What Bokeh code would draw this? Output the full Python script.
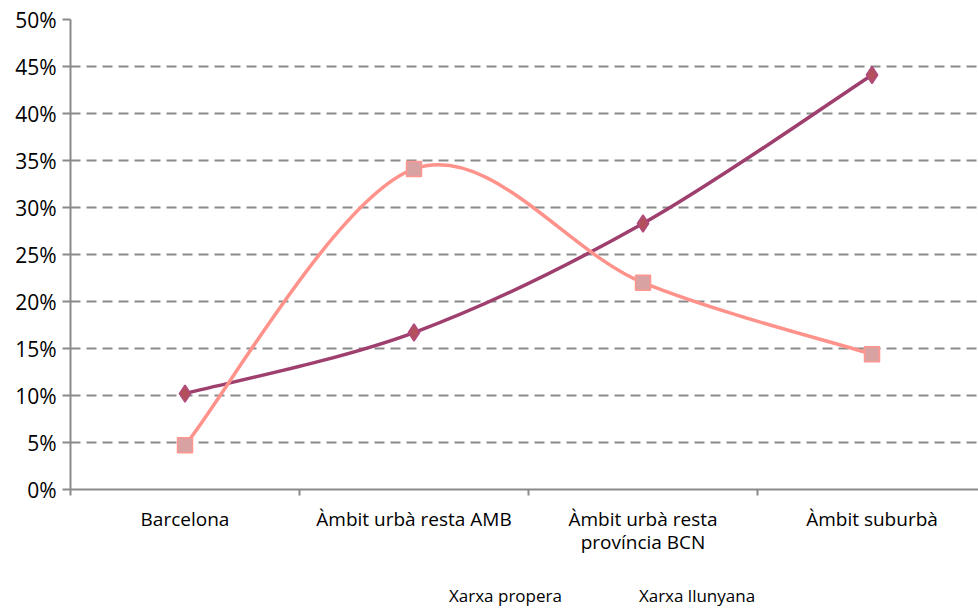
from bokeh.plotting import figure
from bokeh.layouts import column
from bokeh.models import FixedTicker, PrintfTickFormatter, Legend, LegendItem, Range1d
from bokeh.embed import file_html
from bokeh.resources import INLINE

categories = ["Barcelona", "Àmbit urbà resta AMB", "Àmbit urbà resta\nprovíncia BCN", "Àmbit suburbà"]
series_names = ["Xarxa propera", "Xarxa llunyana"]
xarxa_propera = [10.2, 16.7, 28.3, 44.1]
xarxa_llunyana = [4.7, 34.1, 22.0, 14.4]
y_ticks = [0, 5, 10, 15, 20, 25, 30, 35, 40, 45, 50]

FONT = "Open Sans"
xs = [i + 0.5 for i in range(len(categories))]

def smooth_segments(x, y):
    n = len(x)
    out = dict(x0=[], y0=[], x1=[], y1=[], cx0=[], cy0=[], cx1=[], cy1=[])
    for i in range(n - 1):
        xm, ym = (x[i - 1], y[i - 1]) if i > 0 else (x[i], y[i])
        xp, yp = (x[i + 2], y[i + 2]) if i + 2 < n else (x[i + 1], y[i + 1])
        out["x0"].append(x[i]); out["y0"].append(y[i])
        out["x1"].append(x[i + 1]); out["y1"].append(y[i + 1])
        out["cx0"].append(x[i] + (x[i + 1] - xm) / 6); out["cy0"].append(y[i] + (y[i + 1] - ym) / 6)
        out["cx1"].append(x[i + 1] - (xp - x[i]) / 6); out["cy1"].append(y[i + 1] - (yp - y[i]) / 6)
    return out

p = figure(width=978, height=565, output_backend="svg", toolbar_location=None,
           x_range=Range1d(0, 3.965), y_range=Range1d(0, 50),
           min_border_left=70, min_border_right=0, min_border_top=19, min_border_bottom=76)
p.outline_line_color = None
p.xgrid.grid_line_color = None
p.ygrid.ticker = FixedTicker(ticks=y_ticks)
p.ygrid.grid_line_color = "#8A8A8A"
p.ygrid.grid_line_width = 2
p.ygrid.grid_line_dash = "10 6"

AX = "#8A8A8A"
p.yaxis.ticker = FixedTicker(ticks=y_ticks)
p.yaxis.formatter = PrintfTickFormatter(format="%d%%")
p.yaxis.axis_line_color = AX
p.yaxis.axis_line_width = 2
p.yaxis.major_tick_line_color = AX
p.yaxis.major_tick_line_width = 2
p.yaxis.major_tick_in = 0
p.yaxis.major_tick_out = 8
p.yaxis.minor_tick_line_color = None
p.yaxis.major_label_standoff = 6
p.yaxis.major_label_text_font = FONT
p.yaxis.major_label_text_font_size = "21px"
p.yaxis.major_label_text_color = "#000000"

p.xaxis.ticker = FixedTicker(ticks=xs, minor_ticks=[0, 1, 2, 3, 4])
p.xaxis.major_label_overrides = {x: c for x, c in zip(xs, categories)}
p.xaxis.axis_line_color = AX
p.xaxis.axis_line_width = 2
p.xaxis.major_tick_line_color = None
p.xaxis.minor_tick_line_color = AX
p.xaxis.minor_tick_line_width = 2
p.xaxis.minor_tick_in = 0
p.xaxis.minor_tick_out = 6
p.xaxis.major_label_standoff = 10
p.xaxis.major_label_text_font = FONT
p.xaxis.major_label_text_font_size = "19px"
p.xaxis.major_label_text_line_height = 0.9
p.xaxis.major_label_text_color = "#000000"

c1_line = "#9E3F6E"
c2_line = "#FF928A"
m1_style = dict(marker="diamond", size=17, fill_color="#B4505C", line_color="#B04A7E", line_width=1.5)
m2_style = dict(marker="square", size=15, fill_color="#D9A2A2", line_color="#FF9690", line_width=1.5)

s1 = smooth_segments(xs, xarxa_propera)
s2 = smooth_segments(xs, xarxa_llunyana)
p.bezier(line_color=c1_line, line_width=3.5, **s1)
p.bezier(line_color=c2_line, line_width=3.5, **s2)
p.scatter(xs, xarxa_propera, **m1_style)
p.scatter(xs, xarxa_llunyana, **m2_style)

# Legend strip below the chart
lg = figure(width=978, height=45, output_backend="svg", toolbar_location=None,
            x_range=Range1d(0, 1), y_range=Range1d(0, 1),
            min_border_left=0, min_border_right=0, min_border_top=0, min_border_bottom=0)
lg.outline_line_color = None
lg.axis.visible = False
lg.grid.grid_line_color = None
r1 = lg.line([], [], line_color=c1_line, line_width=3.5)
r1m = lg.scatter([], [], **m1_style)
r2 = lg.line([], [], line_color=c2_line, line_width=3.5)
r2m = lg.scatter([], [], **m2_style)

legend = Legend(items=[LegendItem(label=series_names[0], renderers=[r1, r1m]),
                       LegendItem(label=series_names[1], renderers=[r2, r2m])],
                orientation="horizontal", location=(330, 3),
                label_text_font=FONT, label_text_font_size="17px", label_text_color="#000000",
                glyph_width=45, glyph_height=20, label_height=20,
                label_standoff=4, spacing=28, padding=0, margin=0,
                border_line_color=None, background_fill_alpha=0)
lg.add_layout(legend, "center")

layout = column(p, lg, spacing=0)
open("out.html", "w").write(file_html(layout, INLINE))
